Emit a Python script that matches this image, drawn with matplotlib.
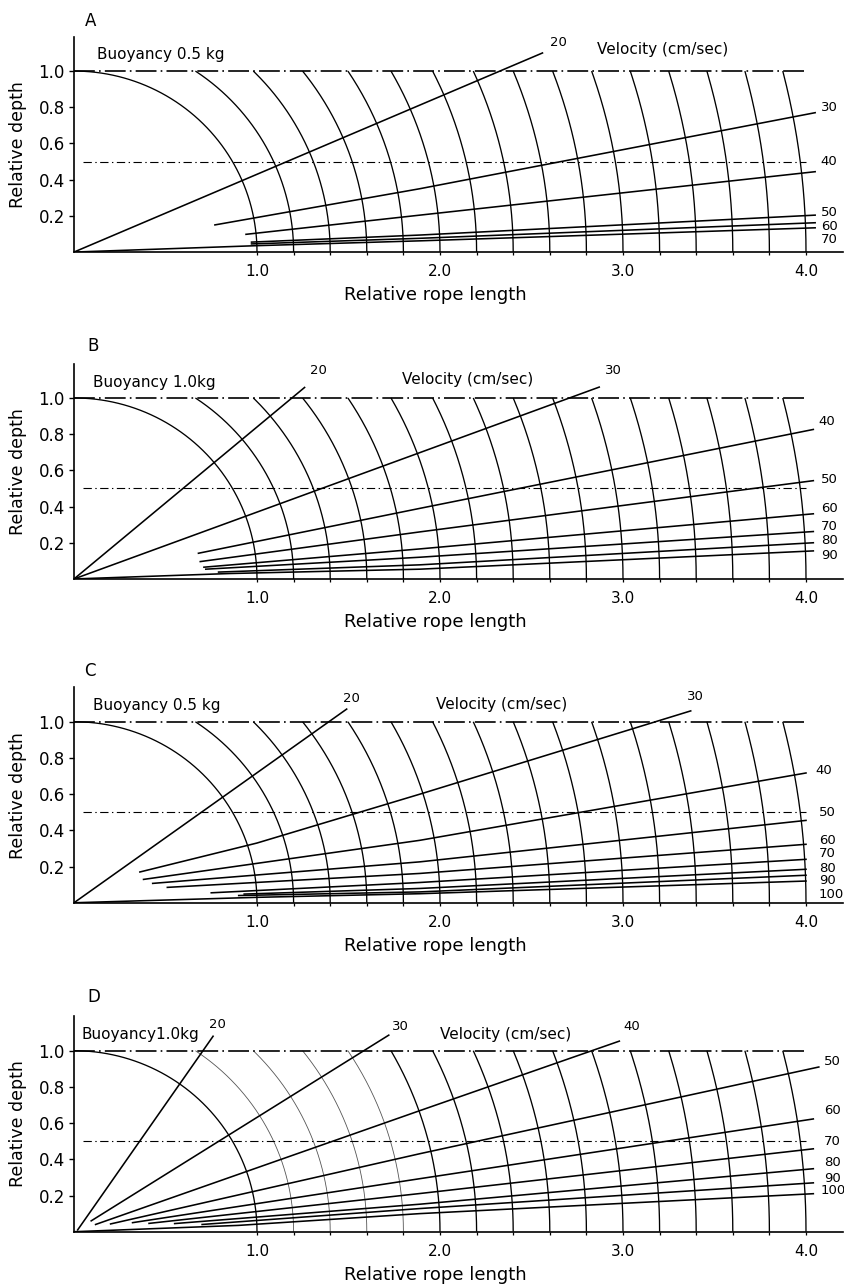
import numpy as np
import matplotlib
matplotlib.use("Agg")
import matplotlib.pyplot as plt

plt.rcParams['font.family'] = ['DejaVu Sans']
plt.rcParams['lines.scale_dashes'] = False

# ---------------- data ----------------
radii = [1.0, 1.2, 1.4, 1.6, 1.8, 2.0, 2.2, 2.4, 2.6, 2.8, 3.0,
         3.2, 3.4, 3.6, 3.8, 4.0]
ref_depths = [1.0, 0.5]

panel_letters = ['A', 'B', 'C', 'D']
buoyancy_texts = ['Buoyancy 0.5 kg', 'Buoyancy 1.0kg', 'Buoyancy 0.5 kg', 'Buoyancy1.0kg']
velocity_title = 'Velocity (cm/sec)'

x_tick_vals = [1.0, 2.0, 3.0, 4.0]
x_tick_labels = ['1.0', '2.0', '3.0', '4.0']
y_tick_vals = [0.2, 0.4, 0.6, 0.8, 1.0]
y_tick_labels = ['0.2', '0.4', '0.6', '0.8', '1.0']

# Panel A velocity curves
A_vel = [20, 30, 40, 50, 60, 70]
A_x = [[0, 2.56], [0.77, 1.89, 4.05], [0.94, 1.89, 4.05],
       [0.97, 1.89, 4.05], [0.97, 1.89, 4.05], [0, 0.99, 1.89, 4.05]]
A_y = [[0, 1.10], [0.15, 0.35, 0.77], [0.098, 0.204, 0.444],
       [0.055, 0.094, 0.204], [0.045, 0.076, 0.162], [0, 0.035, 0.062, 0.134]]

# Panel B velocity curves
B_vel = [20, 30, 40, 50, 60, 70, 80, 90]
B_x = [[0, 1.26], [0, 2.87], [0.68, 1.89, 4.04], [0.69, 1.89, 4.04],
       [0.71, 1.89, 4.04], [0.72, 1.89, 4.04], [0.79, 1.89, 4.04],
       [0, 0.85, 1.89, 4.04]]
B_y = [[0, 1.058], [0, 1.06], [0.142, 0.39, 0.826], [0.096, 0.26, 0.543],
       [0.065, 0.166, 0.36], [0.054, 0.12, 0.262], [0.038, 0.078, 0.20],
       [0, 0.03, 0.054, 0.155]]

# Panel C velocity curves
C_vel = [20, 30, 40, 50, 60, 70, 80, 90, 100]
C_x = [[0, 1.49], [0.36, 1.0, 1.89, 3.37], [0.38, 1.89, 4.0], [0.43, 1.89, 4.0],
       [0.51, 1.89, 4.0], [0.75, 1.89, 4.0], [0.93, 1.89, 4.0], [0.90, 1.89, 4.0],
       [0, 1.0, 1.89, 4.0]]
C_y = [[0, 1.07], [0.17, 0.33, 0.60, 1.06], [0.129, 0.345, 0.717], [0.107, 0.226, 0.455],
       [0.085, 0.162, 0.323], [0.055, 0.112, 0.24], [0.048, 0.079, 0.185],
       [0.04, 0.06, 0.152], [0, 0.03, 0.05, 0.12]]

# Panel D velocity curves
D_vel = [20, 30, 40, 50, 60, 70, 80, 90, 100]
D_x = [[0.02, 0.76], [0.094, 1.72], [0.118, 1.89, 2.98], [0.2, 1.89, 4.07],
       [0.32, 1.89, 4.04], [0.41, 1.89, 4.04], [0.55, 1.89, 4.04],
       [0.70, 1.89, 4.04], [0, 0.9, 1.89, 4.04]]
D_y = [[0.01, 1.08], [0.06, 1.086], [0.04, 0.669, 1.053], [0.043, 0.431, 0.91],
       [0.05, 0.293, 0.623], [0.046, 0.211, 0.458], [0.045, 0.152, 0.348],
       [0.04, 0.128, 0.27], [0, 0.035, 0.10, 0.21]]

# ---------------- layout ----------------
A_lab = ([2.60, 4.08, 4.08, 4.08, 4.08, 4.08], [1.157, 0.80, 0.50, 0.22, 0.14, 0.07])
B_lab = ([1.29, 2.90, 4.07, 4.08, 4.08, 4.08, 4.08, 4.08],
         [1.15, 1.15, 0.87, 0.55, 0.39, 0.29, 0.21, 0.13])
C_lab = ([1.47, 3.35, 4.05, 4.07, 4.07, 4.07, 4.07, 4.07, 4.07],
         [1.127, 1.14, 0.73, 0.496, 0.345, 0.272, 0.19, 0.125, 0.043])
D_lab = ([0.74, 1.74, 3.0, 4.1, 4.1, 4.1, 4.1, 4.1, 4.08],
         [1.145, 1.136, 1.136, 0.94, 0.67, 0.50, 0.385, 0.293, 0.229])

buoy_pos = [(0.126, 1.094), (0.105, 1.085), (0.105, 1.088), (0.04, 1.09)]
vel_pos = [(2.86, 1.12), (1.79, 1.10), (1.98, 1.094), (2.0, 1.09)]
letter_pos = [(0.093, 1.276), (0.104, 1.287), (0.087, 1.28), (0.11, 1.295)]
ax_bottoms = [0.8043, 0.5505, 0.2991, 0.0437]

panels = [(A_vel, A_x, A_y, A_lab), (B_vel, B_x, B_y, B_lab),
          (C_vel, C_x, C_y, C_lab), (D_vel, D_x, D_y, D_lab)]

W, H = 844, 1288
fig = plt.figure(figsize=(W / 100, H / 100), dpi=100)

left = 74 / W
width = 4.2 * 183 / W
height = 1.19 * 181 / H

for i, (vel, xs, ys, lab) in enumerate(panels):
    ax = fig.add_axes([left, ax_bottoms[i], width, height])
    ax.set_xlim(0, 4.2)
    ax.set_ylim(0, 1.19)
    for s in ['top', 'right']:
        ax.spines[s].set_visible(False)
    for s in ['left', 'bottom']:
        ax.spines[s].set_linewidth(1.2)

    # arcs (rope length circles)
    for r in radii:
        th = np.linspace(0, np.arcsin(min(1.0, 1.0 / r)), 200)
        light = (i == 3 and 1.1 < r < 1.9)
        ax.plot(r * np.cos(th), r * np.sin(th),
                color='#555555' if light else 'black',
                lw=0.6 if light else 0.95, solid_capstyle='butt')

    # reference depth dash-dot lines
    ax.plot([0, 4.0], [ref_depths[0], ref_depths[0]], color='black', lw=1.2,
            ls=(0, (15, 3, 1.2, 3)))
    ax.plot([0.05, 4.0], [ref_depths[1], ref_depths[1]], color='black', lw=0.8,
            ls=(0, (6, 2.5, 1, 2.5)))

    # velocity curves
    for v, xv, yv, lx, ly in zip(vel, xs, ys, lab[0], lab[1]):
        ax.plot(xv, yv, color='black', lw=1.15)
        ax.text(lx, ly, str(v), fontsize=9.5, ha='left', va='center',
                clip_on=False)

    ax.text(buoy_pos[i][0], buoy_pos[i][1], buoyancy_texts[i], fontsize=11,
            ha='left', va='center')
    ax.text(vel_pos[i][0], vel_pos[i][1], velocity_title, fontsize=11,
            ha='left', va='center')
    ax.text(letter_pos[i][0], letter_pos[i][1], panel_letters[i], fontsize=12,
            ha='center', va='center', clip_on=False)

    ax.set_xticks(x_tick_vals)
    ax.set_xticklabels(x_tick_labels, fontsize=11)
    ax.set_xticks(radii, minor=True)
    ax.set_yticks(y_tick_vals)
    ax.set_yticklabels(y_tick_labels, fontsize=12)
    ax.tick_params(axis='x', which='both', direction='out', length=2.5,
                   width=0.9, pad=6)
    ax.tick_params(axis='y', direction='out', length=3.6, width=1.0, pad=3)

    ax.set_xlabel('Relative rope length', fontsize=13)
    ax.xaxis.set_label_coords(0.47, -0.2)
    ax.xaxis.label.set_va('center')
    ax.set_ylabel('Relative depth', fontsize=12.5)
    ax.yaxis.set_label_coords(-0.073, 0.5)
    ax.yaxis.label.set_va('center')

fig.savefig('out.png', dpi=100)
